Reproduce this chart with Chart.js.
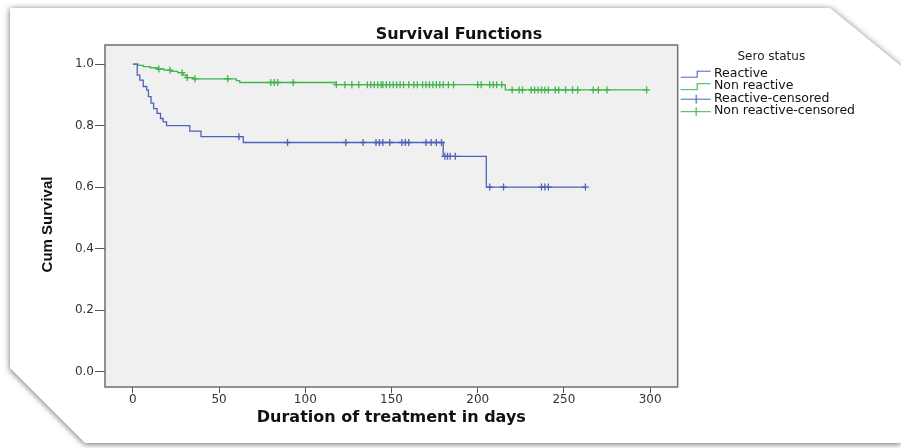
<!DOCTYPE html>
<html>
<head>
<meta charset="utf-8">
<title>Survival Functions</title>
<script src="https://cdn.jsdelivr.net/npm/chart.js@4.4.1/dist/chart.umd.min.js"></script>
<style>
  html, body { margin: 0; padding: 0; background: #fff; }
  #wrap { position: relative; width: 901px; height: 448px; overflow: hidden; }
  #shadow { position: absolute; left: 0; top: 0; width: 901px; height: 448px;
    filter: drop-shadow(0 1px 3px rgba(0,0,0,0.6)); }
  #card { position: absolute; left: 0; top: 0; width: 901px; height: 448px; background: #fff;
    clip-path: polygon(10px 8px, 830px 8px, 901px 66px, 901px 443px, 85px 443px, 10px 368px); }
  canvas { position: absolute; left: 0; top: 0; }
</style>
</head>
<body>
<div id="wrap">
  <div id="shadow"><div id="card"></div></div>
  <canvas id="survivalChart" width="901" height="448"></canvas>
</div>
<script>
// chart texts
const chartTitle = 'Survival Functions';
const xTitle = 'Duration of treatment in days';
const yTitle = 'Cum Survival';
const legendTitle = 'Sero status';
const seriesNames = ['Reactive', 'Non reactive', 'Reactive-censored', 'Non reactive-censored'];

// axis ticks
const xTicks = [0, 50, 100, 150, 200, 250, 300];
const yTicks = [0.0, 0.2, 0.4, 0.6, 0.8, 1.0];

// Kaplan-Meier steps (day, cumulative survival) - reactive
const reactiveDays = [0, 2.5, 4, 6, 8, 9, 10.5, 12, 14, 16, 17.5, 19.5, 33, 39.5, 64, 180, 205, 262.5];
const reactiveSurv = [1.0, 0.964, 0.948, 0.927, 0.915, 0.894, 0.873, 0.855, 0.840, 0.823, 0.812, 0.800, 0.782, 0.764, 0.745, 0.700, 0.600, 0.600];

// non reactive
const nonReactiveDays = [0, 3, 6, 10, 14, 18, 22, 26, 29, 31, 35, 60, 62, 118, 216, 298];
const nonReactiveSurv = [1.0, 0.996, 0.992, 0.988, 0.984, 0.980, 0.976, 0.972, 0.964, 0.956, 0.952, 0.946, 0.940, 0.933, 0.916, 0.916];

// censored cases
const reactiveCensorDays = [61.5, 89.7, 123.5, 133.5, 141, 143, 145, 149, 156, 158, 160, 170, 173, 176, 179,
  181, 182.5, 184, 187, 207, 215, 237, 239, 241, 262.5];
const reactiveCensorSurv = [0.764, 0.745, 0.745, 0.745, 0.745, 0.745, 0.745, 0.745, 0.745, 0.745, 0.745, 0.745, 0.745, 0.745, 0.745,
  0.700, 0.700, 0.700, 0.700, 0.600, 0.600, 0.600, 0.600, 0.600, 0.600];

const nonReactiveCensorDays = [15, 21.5, 28.5, 31.5, 36, 55, 80, 82, 84, 93,
  118, 123, 127, 131, 136, 138, 140, 142, 144, 145, 147, 149, 151, 153, 155, 157, 160, 163, 165, 168,
  170, 172, 174, 176, 178, 180, 183, 186, 200, 202, 207, 209, 211, 214,
  220, 224, 226, 231, 233, 235, 237, 239, 241, 245, 247, 251, 255, 258, 267, 270, 275, 298];
const nonReactiveCensorSurv = [0.984, 0.980, 0.972, 0.956, 0.952, 0.952, 0.940, 0.940, 0.940, 0.940,
  0.933, 0.933, 0.933, 0.933, 0.933, 0.933, 0.933, 0.933, 0.933, 0.933, 0.933, 0.933, 0.933, 0.933, 0.933, 0.933, 0.933, 0.933, 0.933, 0.933,
  0.933, 0.933, 0.933, 0.933, 0.933, 0.933, 0.933, 0.933, 0.933, 0.933, 0.933, 0.933, 0.933, 0.933,
  0.916, 0.916, 0.916, 0.916, 0.916, 0.916, 0.916, 0.916, 0.916, 0.916, 0.916, 0.916, 0.916, 0.916, 0.916, 0.916, 0.916, 0.916];

const blue = '#4b63b6';
const green = '#3fb54c';

const legendFontSize = 12.5;
const legendSymbolWidth = 30;

function toPoints(xs, ys) {
  return xs.map((x, i) => ({ x: x, y: ys[i] }));
}

// little legend glyphs: a step for the curves, a tick on a line for censored
function makeSymbol(color, kind) {
  const c = document.createElement('canvas');
  c.width = 40;
  c.height = 12;
  const g = c.getContext('2d');
  g.strokeStyle = color;
  g.lineWidth = 1.2;
  g.beginPath();
  if (kind === 'step') {
    g.moveTo(8, 9.5);
    g.lineTo(24.5, 9.5);
    g.lineTo(24.5, 3.5);
    g.lineTo(38, 3.5);
  } else {
    g.moveTo(8, 6.5);
    g.lineTo(38, 6.5);
    g.moveTo(23.5, 2);
    g.lineTo(23.5, 11);
  }
  g.stroke();
  return c;
}
const legendSymbols = [
  makeSymbol(blue, 'step'),
  makeSymbol(green, 'step'),
  makeSymbol(blue, 'cross'),
  makeSymbol(green, 'cross')
];

// work out how wide the legend will be so the plot ends at x=678
const measureCtx = document.createElement('canvas').getContext('2d');
measureCtx.font = legendFontSize + "px 'DejaVu Sans'";
const longestLabel = Math.max(...seriesNames.map(t => measureCtx.measureText(t).width));
const legendWidth = legendSymbolWidth + legendFontSize / 2 + longestLabel + 10;
const padRight = Math.round(901 - 678 - legendWidth);
const padLeft = padRight + 17; // keeps the main title centred around x=459

// grey plot background and frame
const plotFrame = {
  id: 'plotFrame',
  beforeDraw(chart) {
    const a = chart.chartArea;
    const ctx = chart.ctx;
    ctx.save();
    ctx.fillStyle = '#f0f0f0';
    ctx.fillRect(a.left, a.top, a.right - a.left, a.bottom - a.top);
    ctx.restore();
  },
  afterDraw(chart) {
    const a = chart.chartArea;
    const ctx = chart.ctx;
    ctx.save();
    ctx.strokeStyle = '#6f6f6f';
    ctx.lineWidth = 1.5;
    ctx.strokeRect(a.left, a.top, a.right - a.left, a.bottom - a.top);
    // y axis title, a bit below the middle like the original
    ctx.translate(48, 224.5);
    ctx.rotate(-Math.PI / 2);
    ctx.fillStyle = '#111';
    ctx.font = "bold 15px 'Liberation Sans Narrow', 'Liberation Sans', sans-serif";
    ctx.textAlign = 'center';
    ctx.textBaseline = 'middle';
    ctx.fillText(yTitle, 0, 0);
    ctx.restore();
  }
};

const tickFont = { family: 'DejaVu Sans', size: 12 };

new Chart(document.getElementById('survivalChart'), {
  type: 'line',
  data: {
    datasets: [
      {
        label: seriesNames[0],
        data: toPoints(reactiveDays, reactiveSurv),
        borderColor: blue,
        borderWidth: 1.3,
        stepped: true,
        pointRadius: 0,
        fill: false
      },
      {
        label: seriesNames[1],
        data: toPoints(nonReactiveDays, nonReactiveSurv),
        borderColor: green,
        borderWidth: 1.3,
        stepped: true,
        pointRadius: 0,
        fill: false
      },
      {
        label: seriesNames[2],
        data: toPoints(reactiveCensorDays, reactiveCensorSurv),
        showLine: false,
        pointStyle: 'cross',
        pointRadius: 3.5,
        borderColor: blue,
        borderWidth: 1.3
      },
      {
        label: seriesNames[3],
        data: toPoints(nonReactiveCensorDays, nonReactiveCensorSurv),
        showLine: false,
        pointStyle: 'cross',
        pointRadius: 3.5,
        borderColor: green,
        borderWidth: 1.3
      }
    ]
  },
  options: {
    responsive: false,
    animation: false,
    events: [],
    layout: { padding: { left: padLeft, right: padRight, top: 0, bottom: 8 } },
    plugins: {
      title: {
        display: true,
        text: chartTitle,
        color: '#111',
        font: { family: 'DejaVu Sans', size: 16, weight: 'bold' },
        padding: { top: 25.4, bottom: 0.4 }
      },
      legend: {
        display: true,
        position: 'right',
        align: 'start',
        title: {
          display: true,
          text: legendTitle,
          color: '#222',
          position: 'center',
          font: { family: 'DejaVu Sans', size: 12 },
          padding: { top: 51, bottom: 2 }
        },
        labels: {
          usePointStyle: true,
          pointStyleWidth: legendSymbolWidth,
          padding: 0,
          color: '#111',
          font: { family: 'DejaVu Sans', size: legendFontSize },
          generateLabels: chart => chart.data.datasets.map((ds, i) => ({
            text: ds.label,
            pointStyle: legendSymbols[i],
            fontColor: '#111',
            fillStyle: ds.borderColor,
            strokeStyle: ds.borderColor,
            lineWidth: 0,
            hidden: false,
            datasetIndex: i
          }))
        }
      },
      tooltip: { enabled: false }
    },
    scales: {
      x: {
        type: 'linear',
        min: -16.2,
        max: 316,
        afterFit: s => { s.height = 53; },
        afterBuildTicks: s => { s.ticks = xTicks.map(v => ({ value: v })); },
        ticks: { color: '#333', font: tickFont, padding: 0, maxRotation: 0, autoSkip: false },
        grid: { drawOnChartArea: false, tickLength: 6, color: '#555', lineWidth: 1 },
        border: { display: false },
        title: {
          display: true,
          text: xTitle,
          color: '#111',
          font: { family: 'DejaVu Sans', size: 16, weight: 'bold' },
          padding: { top: 0, bottom: 12.4 }
        }
      },
      y: {
        type: 'linear',
        min: -0.05,
        max: 1.062,
        afterFit: s => { s.width = 105 - padLeft; },
        afterBuildTicks: s => { s.ticks = yTicks.map(v => ({ value: v })); },
        ticks: { color: '#333', font: tickFont, padding: 1, callback: v => v.toFixed(1) },
        grid: { drawOnChartArea: false, tickLength: 10, color: '#555', lineWidth: 1 },
        border: { display: false }
      }
    }
  },
  plugins: [plotFrame]
});
</script>
</body>
</html>
